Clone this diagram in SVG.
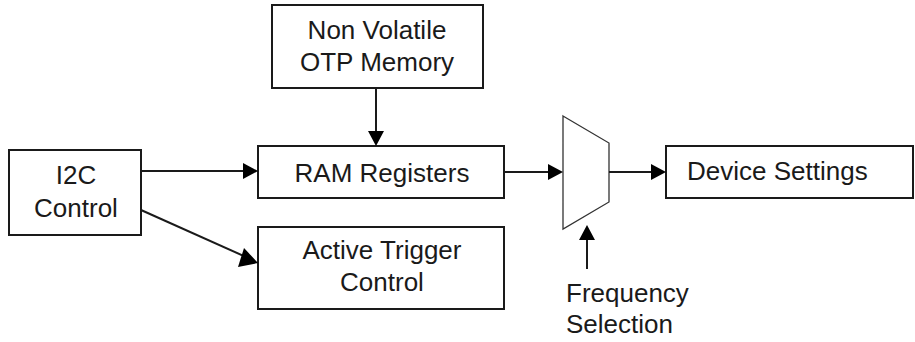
<svg xmlns="http://www.w3.org/2000/svg" width="915" height="342" viewBox="0 0 915 342">
<style>
.box{fill:#fff;stroke:#1a1a1a;stroke-width:2}
.t{font-family:"Liberation Sans",Arial,sans-serif;font-size:26px;fill:#1a1a1a}
.c{text-anchor:middle}
.ln{stroke:#1a1a1a;stroke-width:2;fill:none}
.ah{fill:#000}
</style>
<rect width="915" height="342" fill="#fff"/>
<g id="otp"><rect class="box" x="272" y="5" width="211" height="83"/><text class="t c" x="377" y="39">Non Volatile</text><text class="t c" x="377" y="71">OTP Memory</text></g>
<g id="ram"><rect class="box" x="258" y="146" width="246" height="52"/><text class="t c" x="382" y="182">RAM Registers</text></g>
<g id="atc"><rect class="box" x="258" y="227" width="246" height="82"/><text class="t c" x="382" y="259">Active Trigger</text><text class="t c" x="382" y="291">Control</text></g>
<g id="i2c"><rect class="box" x="9" y="150" width="132" height="85"/><text class="t c" x="76" y="184">I2C</text><text class="t c" x="76" y="217">Control</text></g>
<g id="mux"><polygon points="563,116 609,143 609,202 563,229" fill="#fff" stroke="#333" stroke-width="1.3"/></g>
<g id="dev"><rect class="box" x="666" y="146" width="247" height="52"/><text class="t" x="687" y="180">Device Settings</text></g>
<g id="freq"><text class="t" x="566" y="302">Frequency</text><text class="t" x="566" y="333">Selection</text></g>
<g id="connectors">
<line class="ln" x1="376" y1="88" x2="376" y2="132"/><polygon class="ah" points="368,131 384,131 376,146"/>
<line class="ln" x1="141" y1="171" x2="244" y2="171"/><polygon class="ah" points="243,163 243,179 258,171"/>
<line class="ln" x1="141" y1="210" x2="246" y2="257"/><polygon class="ah" points="244,248 238,267 258,263"/>
<line class="ln" x1="504" y1="172" x2="549" y2="172"/><polygon class="ah" points="548,164 548,180 563,172"/>
<line class="ln" x1="609" y1="172" x2="652" y2="172"/><polygon class="ah" points="651,164 651,180 666,172"/>
<line class="ln" x1="587" y1="269" x2="587" y2="239" stroke="#444"/><polygon class="ah" points="579,240 595,240 587,225"/>
</g>
</svg>
